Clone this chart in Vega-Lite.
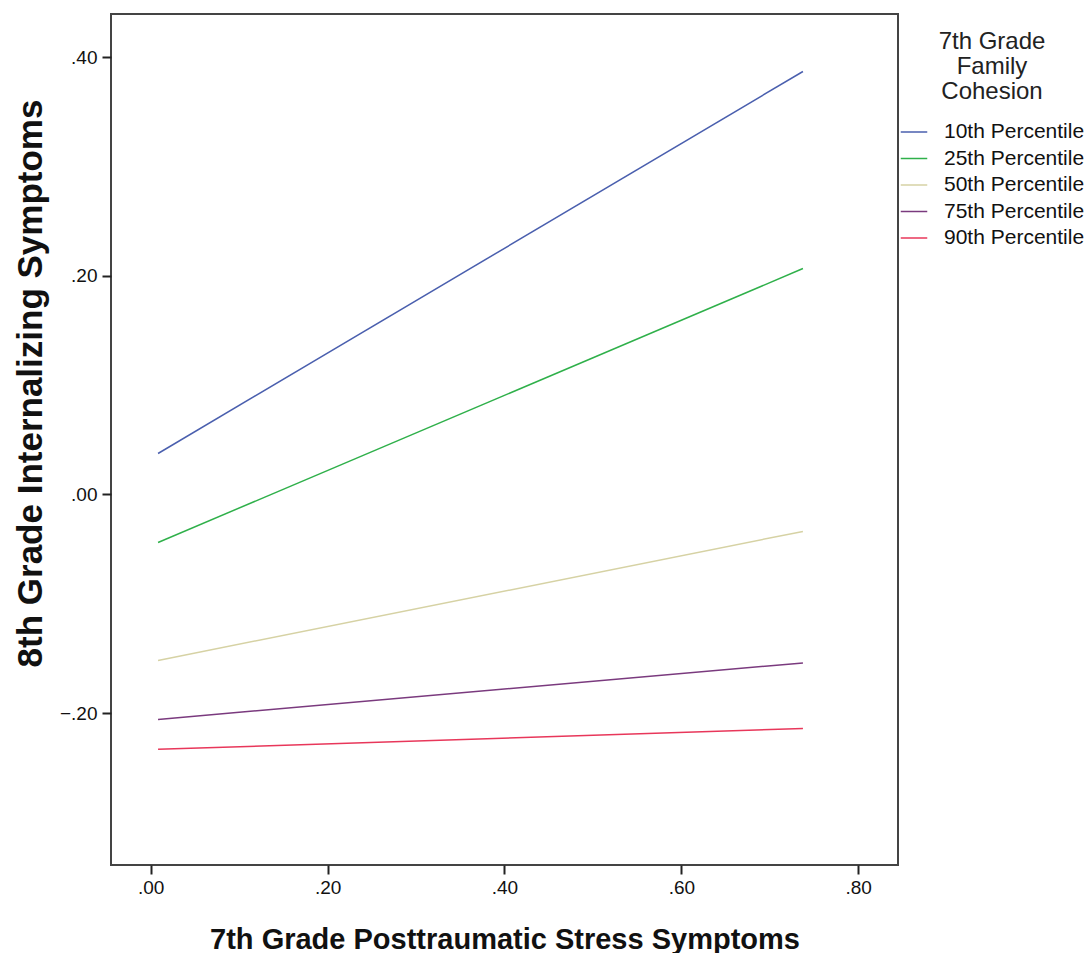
{
  "$schema": "https://vega.github.io/schema/vega-lite/v6.json",
  "width": 787,
  "height": 851,
  "autosize": "none",
  "padding": {"left": 111, "top": 14, "right": 190, "bottom": 88},
  "background": "white",
  "config": {
    "font": "Liberation Sans",
    "view": {"stroke": "#444444", "strokeWidth": 2}
  },
  "data": {
    "values": [
      {"pts": 0.0083, "int": 0.0375, "cohesion": "10th Percentile"},
      {"pts": 0.7375, "int": 0.387, "cohesion": "10th Percentile"},
      {"pts": 0.0083, "int": -0.0439, "cohesion": "25th Percentile"},
      {"pts": 0.7375, "int": 0.2067, "cohesion": "25th Percentile"},
      {"pts": 0.0083, "int": -0.1518, "cohesion": "50th Percentile"},
      {"pts": 0.7375, "int": -0.0338, "cohesion": "50th Percentile"},
      {"pts": 0.0083, "int": -0.2058, "cohesion": "75th Percentile"},
      {"pts": 0.7375, "int": -0.1541, "cohesion": "75th Percentile"},
      {"pts": 0.0083, "int": -0.2332, "cohesion": "90th Percentile"},
      {"pts": 0.7375, "int": -0.214, "cohesion": "90th Percentile"}
    ]
  },
  "mark": {"type": "line", "strokeWidth": 1.5, "clip": true},
  "encoding": {
    "x": {
      "field": "pts",
      "type": "quantitative",
      "scale": {"domain": [-0.0449, 0.845], "nice": false, "zero": false},
      "axis": {
        "title": "7th Grade Posttraumatic Stress Symptoms",
        "values": [0, 0.2, 0.4, 0.6, 0.8],
        "labelExpr": "replace(format(datum.value, '.2f'), '0.', '.')",
        "grid": false,
        "domain": false,
        "tickColor": "#222222",
        "tickWidth": 2,
        "tickSize": 9,
        "labelFontSize": 19,
        "labelColor": "#111111",
        "labelPadding": 4,
        "titleFontSize": 29,
        "titleFontWeight": "bold",
        "titleColor": "#111111",
        "titleBaseline": "middle",
        "titleY": 74
      }
    },
    "y": {
      "field": "int",
      "type": "quantitative",
      "scale": {"domain": [-0.339, 0.4396], "nice": false, "zero": false},
      "axis": {
        "title": "8th Grade Internalizing Symptoms",
        "values": [-0.2, 0, 0.2, 0.4],
        "labelExpr": "replace(format(datum.value, '.2f'), '0.', '.')",
        "grid": false,
        "domain": false,
        "tickColor": "#222222",
        "tickWidth": 2,
        "tickSize": 9,
        "labelFontSize": 19,
        "labelColor": "#111111",
        "labelPadding": 5,
        "titleFontSize": 35,
        "titleFontWeight": "bold",
        "titleColor": "#111111",
        "titleAngle": -90,
        "titleBaseline": "middle",
        "titleAlign": "center",
        "titleX": -81,
        "titleY": 369
      }
    },
    "color": {
      "field": "cohesion",
      "type": "nominal",
      "scale": {
        "domain": ["10th Percentile", "25th Percentile", "50th Percentile", "75th Percentile", "90th Percentile"],
        "range": ["#4a5fae", "#2fb04a", "#d6d2a4", "#7a3a7e", "#e8375a"]
      },
      "legend": {
        "title": ["7th Grade", "Family", "Cohesion"],
        "orient": "none",
        "legendX": 789,
        "legendY": 16,
        "titleFontSize": 24,
        "titleFontWeight": "normal",
        "titleColor": "#222222",
        "titleLineHeight": 25,
        "titleAlign": "center",
        "titleAnchor": "middle",
        "titlePadding": 14,
        "labelFontSize": 21,
        "labelColor": "#111111",
        "labelOffset": 16,
        "symbolType": "stroke",
        "symbolSize": 702,
        "symbolStrokeWidth": 1.5,
        "rowPadding": 2.5
      }
    }
  }
}
